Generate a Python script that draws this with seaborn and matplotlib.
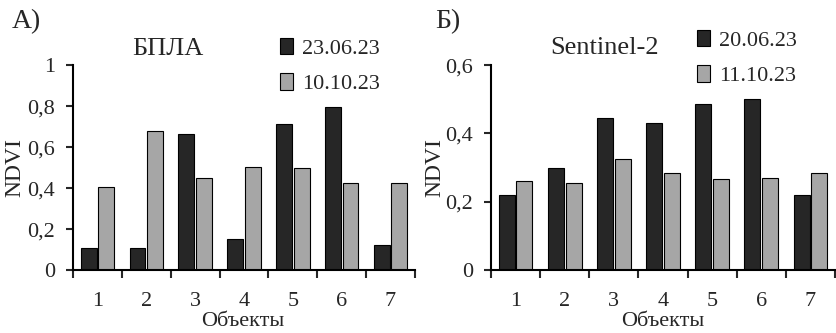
import numpy as np
import pandas as pd
import matplotlib
matplotlib.use("Agg")
import matplotlib.pyplot as plt
import seaborn as sns
from matplotlib.patches import Patch

objects = ["1", "2", "3", "4", "5", "6", "7"]

uav_dates = ["23.06.23", "10.10.23"]
uav_june = [0.109, 0.109, 0.665, 0.151, 0.712, 0.797, 0.124]
uav_oct = [0.405, 0.676, 0.447, 0.502, 0.496, 0.426, 0.426]

s2_dates = ["20.06.23", "11.10.23"]
s2_june = [0.219, 0.298, 0.446, 0.429, 0.487, 0.500, 0.219]
s2_oct = [0.261, 0.254, 0.326, 0.284, 0.267, 0.268, 0.284]

colors = ["#262626", "#a6a6a6"]

sns.set_style("ticks")
plt.rcParams["font.family"] = ["Liberation Serif", "DejaVu Serif"]


def make_df(june, octo, dates):
    return pd.DataFrame({
        "obj": objects * 2,
        "ndvi": june + octo,
        "date": [dates[0]] * 7 + [dates[1]] * 7,
    })


def draw(ax, df, dates, ymax, yticks, yticklabels):
    sns.barplot(data=df, x="obj", y="ndvi", hue="date", hue_order=dates,
                palette=colors, width=0.72, gap=0.1, edgecolor="black",
                linewidth=0.8, ax=ax, legend=False)
    ax.set_xlim(-0.5, 6.5)
    ax.set_ylim(0, ymax)
    ax.set_yticks(yticks)
    ax.set_yticklabels(yticklabels, fontsize=16)
    ax.set_xticks(range(7))
    ax.set_xticklabels(objects, fontsize=16)
    ax.set_xticks(np.arange(-0.5, 7, 1), minor=True)
    ax.tick_params(axis="x", which="major", length=0, pad=16)
    ax.tick_params(axis="x", which="minor", length=6, width=1.5, direction="out")
    ax.tick_params(axis="y", length=5, width=1.5, direction="out", pad=8)
    ax.set_xlabel("")
    ax.set_ylabel("")
    sns.despine(ax=ax)
    for s in ["left", "bottom"]:
        ax.spines[s].set_linewidth(1.5)
        ax.spines[s].set_color("black")


fig = plt.figure(figsize=(8.37, 3.33), dpi=100)
ax1 = fig.add_axes([0.0872, 0.189, 0.4086, 0.6156])
ax2 = fig.add_axes([0.5866, 0.189, 0.411, 0.6156])

draw(ax1, make_df(uav_june, uav_oct, uav_dates), uav_dates, 1.0,
     [0, 0.2, 0.4, 0.6, 0.8, 1.0], ["0", "0,2", "0,4", "0,6", "0,8", "1"])
draw(ax2, make_df(s2_june, s2_oct, s2_dates), s2_dates, 0.6,
     [0, 0.2, 0.4, 0.6], ["0", "0,2", "0,4", "0,6"])

# panel letters, titles, axis labels
fig.text(12 / 837, 1 - 22 / 333, "А)", fontsize=20, va="center", ha="left")
fig.text(435 / 837, 1 - 22 / 333, "Б)", fontsize=20, va="center", ha="left")
fig.text(168 / 837, 1 - 49 / 333, "БПЛА", fontsize=19, va="center", ha="center")
fig.text(605 / 837, 1 - 48 / 333, "Sentinel-2", fontsize=19, va="center", ha="center")
for cx in [243, 663]:
    fig.text(cx / 837, 1 - 322 / 333, "Объекты", fontsize=16, va="center", ha="center")
for cx in [15, 435]:
    fig.text(cx / 837, 1 - 168 / 333, "NDVI", fontsize=17, va="center", ha="center",
             rotation=90)

# legends
for ax, dates, lx, ly in [(ax1, uav_dates, 280, 38), (ax2, s2_dates, 697, 30)]:
    handles = [Patch(facecolor=c, edgecolor="black", linewidth=0.8) for c in colors]
    ax.legend(handles, dates, loc="upper left", bbox_to_anchor=(lx / 837, 1 - ly / 333),
              bbox_transform=fig.transFigure, frameon=False, fontsize=16,
              handlelength=0.6, handleheight=0.75, handletextpad=0.4,
              labelspacing=0.65, borderpad=0, borderaxespad=0)

fig.savefig("out.png", dpi=100)
